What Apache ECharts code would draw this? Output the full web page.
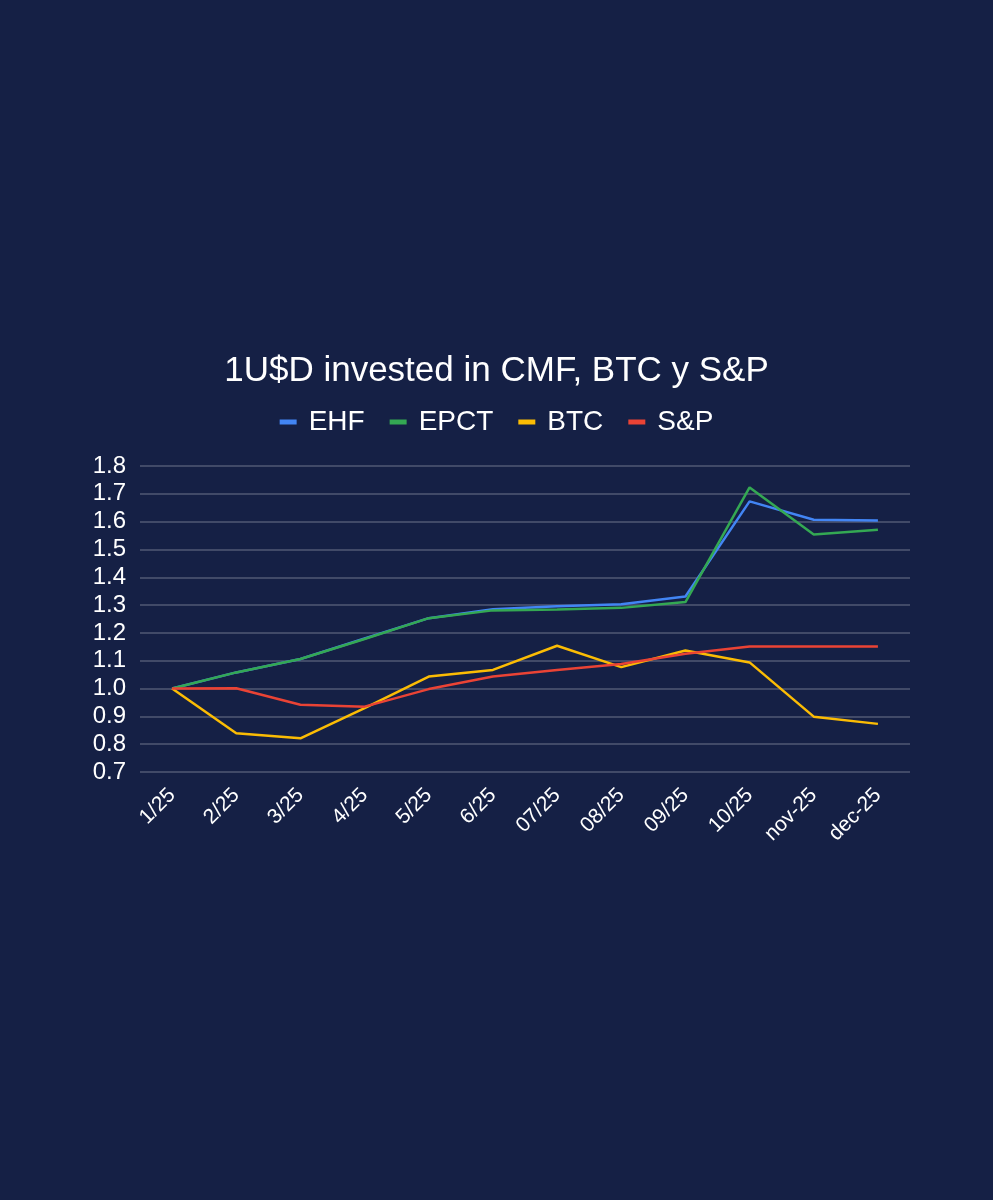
<!DOCTYPE html>
<html>
<head>
<meta charset="utf-8">
<title>1U$D invested in CMF, BTC y S&amp;P</title>
<script src="https://cdn.jsdelivr.net/npm/echarts@6/dist/echarts.min.js"></script>
<style>
  html, body { margin: 0; padding: 0; background: #152045; }
  #chart { width: 993px; height: 1200px; }
</style>
</head>
<body>
<div id="chart"></div>
<script>
// months on the x axis
const months = ['1/25', '2/25', '3/25', '4/25', '5/25', '6/25', '07/25', '08/25', '09/25', '10/25', 'nov-25', 'dec-25'];

// value of 1 U$D over time
const ehf  = [1.000, 1.058, 1.106, 1.180, 1.253, 1.285, 1.296, 1.303, 1.331, 1.673, 1.607, 1.604];
const epct = [1.000, 1.058, 1.106, 1.178, 1.253, 1.281, 1.284, 1.290, 1.311, 1.723, 1.554, 1.571];
const btc  = [1.000, 0.839, 0.821, 0.930, 1.043, 1.067, 1.154, 1.077, 1.137, 1.094, 0.899, 0.873];
const snp  = [1.000, 1.001, 0.942, 0.935, 0.998, 1.043, 1.067, 1.088, 1.125, 1.151, 1.151, 1.151];

const yTicks = { min: 0.7, max: 1.8, step: 0.1 };

const fontFamily = '"Liberation Sans", Arial, sans-serif';

function lineSeries(name, data, color) {
  return {
    name: name,
    type: 'line',
    data: data,
    symbol: 'none',
    lineStyle: { color: color, width: 2.5 },
    itemStyle: { color: color }
  };
}

const chart = echarts.init(document.getElementById('chart'), null, { renderer: 'canvas' });

chart.setOption({
  backgroundColor: '#152045',
  animation: false,
  title: {
    text: '1U$D invested in CMF, BTC y S&P',
    left: 'center',
    top: 349,
    textStyle: { color: '#ffffff', fontSize: 35, fontWeight: 'normal', fontFamily: fontFamily }
  },
  legend: {
    top: 403,
    left: 'center',
    itemWidth: 17,
    itemHeight: 5,
    itemGap: 25,
    icon: 'rect',
    textStyle: { color: '#ffffff', fontSize: 28, fontFamily: fontFamily, padding: [0, 0, 0, 7] },
    data: ['EHF', 'EPCT', 'BTC', 'S&P']
  },
  grid: { left: 140, right: 83, top: 466, bottom: 428, containLabel: false },
  xAxis: {
    type: 'category',
    data: months,
    boundaryGap: true,
    axisLine: { show: false },
    axisTick: { show: false },
    axisLabel: {
      color: '#ffffff',
      fontSize: 21,
      fontFamily: fontFamily,
      rotate: 45,
      interval: 0,
      margin: 20,
      padding: [14, 0, 0, 0]
    }
  },
  yAxis: {
    type: 'value',
    min: yTicks.min,
    max: yTicks.max,
    interval: yTicks.step,
    axisLine: { show: false },
    axisTick: { show: false },
    splitLine: { lineStyle: { color: 'rgba(255,255,255,0.26)', width: 1.5 } },
    axisLabel: {
      color: '#ffffff',
      fontSize: 24,
      fontFamily: fontFamily,
      margin: 14,
      formatter: v => v.toFixed(1)
    }
  },
  series: [
    lineSeries('EHF', ehf, '#4285f4'),
    lineSeries('EPCT', epct, '#34a853'),
    lineSeries('BTC', btc, '#fbbc04'),
    lineSeries('S&P', snp, '#ea4335')
  ]
});
</script>
</body>
</html>
